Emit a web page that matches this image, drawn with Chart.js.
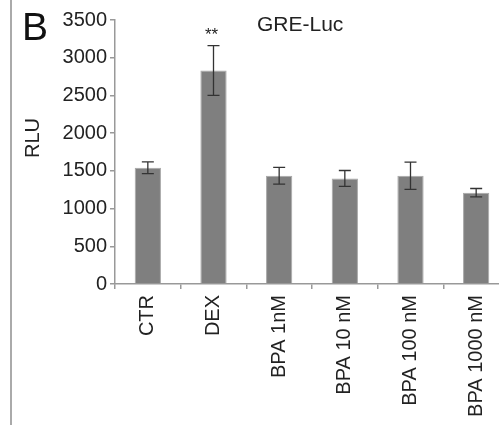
<!DOCTYPE html>
<html>
<head>
<meta charset="utf-8">
<script src="https://cdn.jsdelivr.net/npm/chart.js"></script>
<style>
  html, body { margin: 0; padding: 0; background: #fff; overflow: hidden; }
  #wrap { width: 499px; height: 425px; overflow: hidden; }
</style>
</head>
<body>
<div id="wrap"><canvas id="gre" width="515" height="425"></canvas></div>
<script>
const groupLabels = ['CTR', 'DEX', 'BPA 1nM', 'BPA 10 nM', 'BPA 100 nM', 'BPA 1000 nM'];
const rluMean = [1540, 2830, 1435, 1400, 1435, 1210];
const rluErr = [78, 330, 110, 105, 180, 56];
const yTicks = [0, 500, 1000, 1500, 2000, 2500, 3000, 3500];
const fontFam = "'Liberation Sans', Arial, Helvetica, sans-serif";

// error bars, panel letter, title, axis label, significance stars
const extras = {
    id: 'extras',
    afterDatasetsDraw(chart) {
        const c = chart.ctx;
        const xs = chart.scales.x;
        const ys = chart.scales.y;
        c.save();
        c.strokeStyle = '#333';
        c.lineWidth = 1.3;
        rluMean.forEach((v, i) => {
            const x = xs.getPixelForValue(i);
            const top = ys.getPixelForValue(v + rluErr[i]);
            const bot = ys.getPixelForValue(v - rluErr[i]);
            c.beginPath();
            c.moveTo(x, top); c.lineTo(x, bot);
            c.moveTo(x - 6, top); c.lineTo(x + 6, top);
            c.moveTo(x - 6, bot); c.lineTo(x + 6, bot);
            c.stroke();
        });
        c.restore();
    },
    afterDraw(chart) {
        const c = chart.ctx;
        const xs = chart.scales.x;
        const ys = chart.scales.y;
        c.save();
        // panel border on the left
        c.strokeStyle = '#aaa';
        c.lineWidth = 2;
        c.beginPath();
        c.moveTo(11, 0); c.lineTo(11, 425);
        c.stroke();

        c.fillStyle = '#111';
        c.textBaseline = 'alphabetic';
        c.textAlign = 'left';
        c.font = '39px ' + fontFam;
        c.fillText('B', 22, 40);

        c.fillStyle = '#222';
        c.font = '21px ' + fontFam;
        c.fillText('GRE-Luc', 257, 31);

        // significance marks over DEX
        c.textAlign = 'center';
        c.font = '17px ' + fontFam;
        c.fillText('**', xs.getPixelForValue(1) - 2, ys.getPixelForValue(rluMean[1] + rluErr[1]) - 6);

        // y axis label
        c.translate(33, 138);
        c.rotate(-Math.PI / 2);
        c.textBaseline = 'middle';
        c.font = '20px ' + fontFam;
        c.fillText('RLU', 0, 0);
        c.restore();
    }
};

new Chart(document.getElementById('gre'), {
    type: 'bar',
    data: {
        labels: groupLabels,
        datasets: [{
            label: 'RLU',
            data: rluMean,
            backgroundColor: '#7f7f7f',
            borderColor: '#a8a8a8',
            borderWidth: 1,
            barPercentage: 0.4,
            categoryPercentage: 1.0
        }]
    },
    options: {
        responsive: false,
        animation: false,
        layout: { padding: { top: 20, right: 6, left: 0, bottom: 0 } },
        plugins: {
            legend: { display: false },
            tooltip: { enabled: false }
        },
        scales: {
            x: {
                offset: true,
                grid: { offset: true, drawOnChartArea: false, tickLength: 5, color: '#999', lineWidth: 1.5 },
                border: { color: '#999', width: 1.5 },
                ticks: {
                    minRotation: 90, maxRotation: 90, padding: 6, autoSkip: false,
                    color: '#222', font: { family: fontFam, size: 20 }
                },
                afterFit(scale) { scale.height = 141; }
            },
            y: {
                min: 0, max: 3500,
                afterBuildTicks(scale) { scale.ticks = yTicks.map(v => ({ value: v })); },
                grid: { drawOnChartArea: false, tickLength: 5, color: '#999', lineWidth: 1.5 },
                border: { color: '#999', width: 1.5 },
                ticks: {
                    padding: 3, color: '#222', font: { family: fontFam, size: 20 },
                    callback: v => String(v)
                },
                afterFit(scale) { scale.width = 115; }
            }
        }
    },
    plugins: [extras]
});
</script>
</body>
</html>
